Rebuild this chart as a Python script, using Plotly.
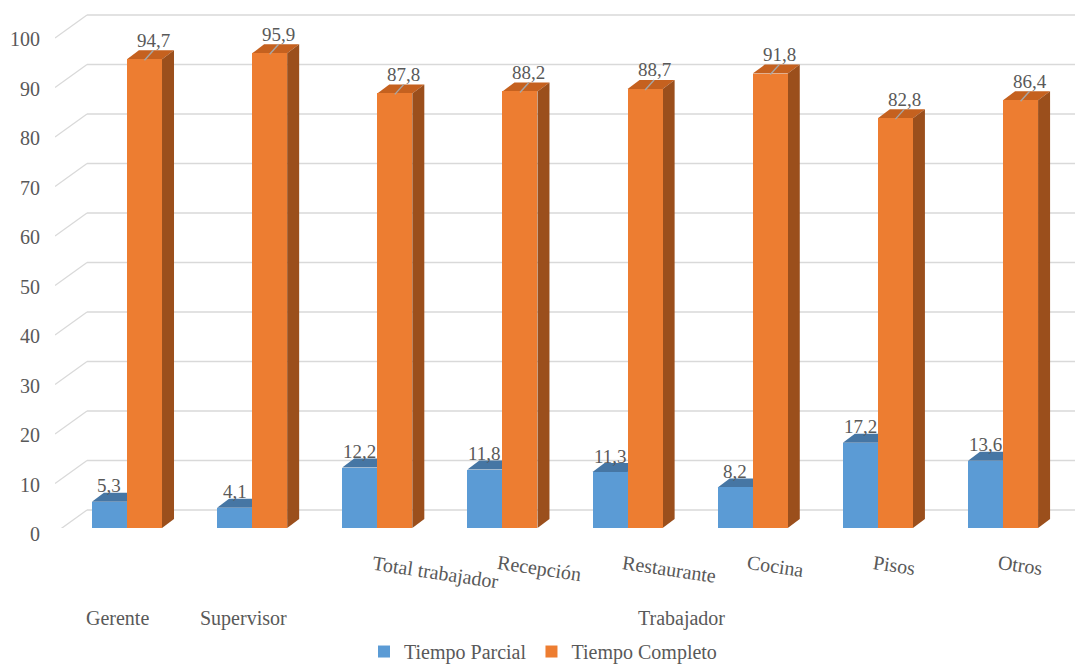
import plotly.graph_objects as go

# ---- data ----------------------------------------------------------------
categories = ["Gerente", "Supervisor", "Total trabajador", "Recepción",
              "Restaurante", "Cocina", "Pisos", "Otros"]
outer_categories = ["Gerente", "Supervisor"]          # shown on the outer level
group_label = "Trabajador"                            # groups the remaining ones
parcial = [5.3, 4.1, 12.2, 11.8, 11.3, 8.2, 17.2, 13.6]
completo = [94.7, 95.9, 87.8, 88.2, 88.7, 91.8, 82.8, 86.4]
series_names = ["Tiempo Parcial", "Tiempo Completo"]
y_ticks = [0, 10, 20, 30, 40, 50, 60, 70, 80, 90, 100]

# ---- style ---------------------------------------------------------------
FONT = "Liberation Serif"
TEXT = "#595959"
GRID = "#D9D9D9"
BLUE, BLUE_TOP = "#5B9BD5", "#4676A4"
ORANGE, ORANGE_TOP, ORANGE_SIDE = "#ED7D31", "#C5611F", "#9B4F1C"
FS_AXIS, FS_LABEL = 20, 19

W, H = 1075, 666
M_L, M_R, M_T, M_B = 55, 0, 0, 138
X_MIN, X_MAX = -0.575, len(categories) - 1 + 0.575
Y_MAX = 106.67
px_x = (W - M_L - M_R) / (X_MAX - X_MIN)     # pixels per category unit
px_y = (H - M_T - M_B) / Y_MAX               # pixels per value unit

BAR_W = 0.28
DX, DY = 12 / px_x, 9 / px_y                 # depth of the 3-D boxes
WALL_DX = 32 / px_x                          # depth of the back wall
FRONT_OFF, BACK_OFF = -5 / px_y, 18 / px_y   # wall front / back plane offsets

x_idx = list(range(len(categories)))
x_blue = [i - BAR_W / 2 for i in x_idx]
x_orange = [i + BAR_W / 2 for i in x_idx]


def fmt(v):
    return f"{v:.1f}".replace(".", ",")


fig = go.Figure()
fig.add_bar(x=x_blue, y=parcial, width=BAR_W, name=series_names[0],
            marker=dict(color=BLUE, line=dict(width=0)), hoverinfo="skip")
fig.add_bar(x=x_orange, y=completo, width=BAR_W, name=series_names[1],
            marker=dict(color=ORANGE, line=dict(width=0)), hoverinfo="skip")

shapes = []
# back wall gridlines plus the receding lines on the side wall
for v in y_ticks:
    shapes.append(dict(type="line", layer="below", xref="x", yref="y",
                       x0=X_MIN, y0=v + FRONT_OFF, x1=X_MIN + WALL_DX, y1=v + BACK_OFF,
                       line=dict(color=GRID, width=1.3)))
    shapes.append(dict(type="line", layer="below", xref="x", yref="y",
                       x0=X_MIN + WALL_DX, y0=v + BACK_OFF, x1=X_MAX, y1=v + BACK_OFF,
                       line=dict(color=GRID, width=1.3)))


def path(pts):
    return "M " + " L ".join(f"{x},{y}" for x, y in pts) + " Z"


annotations = []
for i in x_idx:
    # blue box top (its side is hidden behind the orange box)
    xl, xr, v = x_blue[i] - BAR_W / 2, x_blue[i] + BAR_W / 2, parcial[i]
    shapes.append(dict(type="path", layer="below", xref="x", yref="y",
                       path=path([(xl, v), (xl + DX, v + DY), (xr + DX, v + DY), (xr, v)]),
                       fillcolor=BLUE_TOP, line=dict(width=0)))
    # orange box top and side
    xl, xr, v = x_orange[i] - BAR_W / 2, x_orange[i] + BAR_W / 2, completo[i]
    shapes.append(dict(type="path", layer="below", xref="x", yref="y",
                       path=path([(xl, v), (xl + DX, v + DY), (xr + DX, v + DY), (xr, v)]),
                       fillcolor=ORANGE_TOP, line=dict(width=0)))
    shapes.append(dict(type="path", layer="below", xref="x", yref="y",
                       path=path([(xr, 0), (xr + DX, DY), (xr + DX, v + DY), (xr, v)]),
                       fillcolor=ORANGE_SIDE, line=dict(width=0)))

    # value labels (orange ones carry a short leader line)
    lx = x_orange[i] + 9 / px_x
    shapes.append(dict(type="line", layer="above", xref="x", yref="y",
                       x0=x_orange[i], y0=v - 0.2, x1=lx, y1=v + 9 / px_y,
                       line=dict(color="#A6A6A6", width=1.4)))
    annotations.append(dict(x=lx, y=v, xref="x", yref="y", text=fmt(v),
                            showarrow=False, yshift=19, xanchor="center", yanchor="middle",
                            font=dict(family=FONT, size=FS_LABEL, color=TEXT)))
    annotations.append(dict(x=x_blue[i], y=parcial[i], xref="x", yref="y",
                            text=fmt(parcial[i]), showarrow=False, yshift=16,
                            xanchor="center", yanchor="middle",
                            font=dict(family=FONT, size=FS_LABEL, color=TEXT)))

# category labels
shift = 9 / px_x
group_idx = []
for i, name in enumerate(categories):
    if name in outer_categories:
        annotations.append(dict(x=i - shift, y=0, xref="x", yref="y", text=name,
                                showarrow=False, yshift=-90, xanchor="center",
                                yanchor="middle",
                                font=dict(family=FONT, size=FS_AXIS, color=TEXT)))
    else:
        group_idx.append(i)
        annotations.append(dict(x=i - shift, y=0, xref="x", yref="y", text=name,
                                showarrow=False, yshift=-21, xanchor="left",
                                yanchor="top", textangle=8.5,
                                font=dict(family=FONT, size=FS_AXIS, color=TEXT)))
annotations.append(dict(x=sum(group_idx) / len(group_idx) - shift, y=0, xref="x", yref="y",
                        text=group_label, showarrow=False, yshift=-90,
                        xanchor="center", yanchor="middle",
                        font=dict(family=FONT, size=FS_AXIS, color=TEXT)))

fig.update_layout(
    width=W, height=H, autosize=False,
    margin=dict(l=M_L, r=M_R, t=M_T, b=M_B, pad=0, autoexpand=False),
    paper_bgcolor="white", plot_bgcolor="white",
    barmode="overlay", bargap=0,
    shapes=shapes, annotations=annotations,
    font=dict(family=FONT, size=FS_AXIS, color=TEXT),
    showlegend=True,
    legend=dict(orientation="h", x=(364 - M_L) / (W - M_L - M_R), xanchor="left",
                y=-0.197, yanchor="top", font=dict(family=FONT, size=FS_AXIS, color=TEXT),
                bgcolor="rgba(0,0,0,0)"),
    xaxis=dict(range=[X_MIN, X_MAX], showticklabels=False, showgrid=False,
               zeroline=False, showline=False, fixedrange=True),
    yaxis=dict(range=[0, Y_MAX], tickvals=y_ticks, ticktext=[str(t) for t in y_ticks],
               showgrid=False, zeroline=False, showline=False, ticks="",
               ticklabelshift=6, ticklabelstandoff=14, fixedrange=True,
               tickfont=dict(family=FONT, size=FS_AXIS, color=TEXT)),
)

fig.write_html("out.html")
